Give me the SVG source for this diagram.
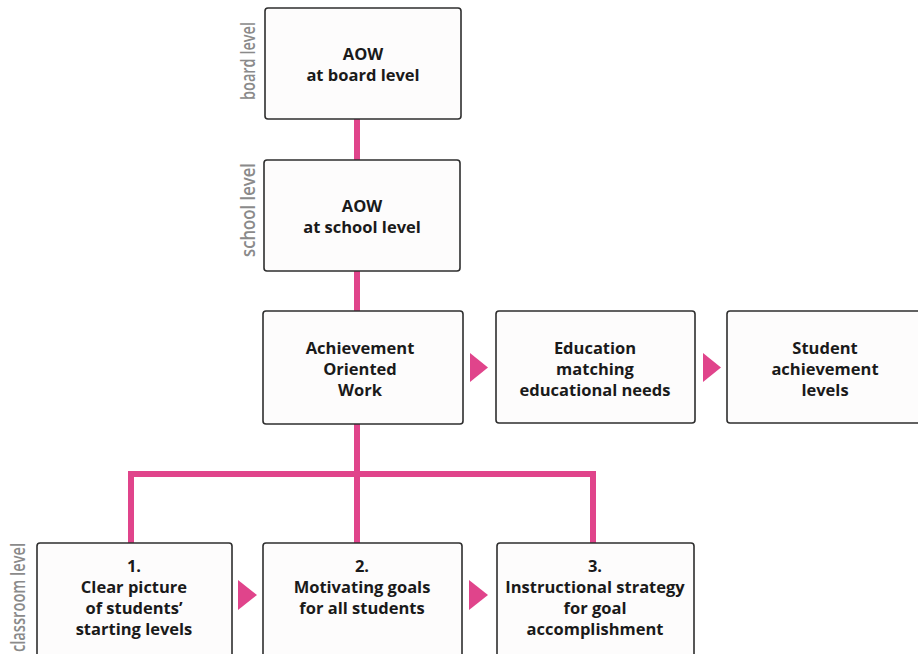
<svg xmlns="http://www.w3.org/2000/svg" width="918" height="654" viewBox="0 0 918 654">
<style>
.box{fill:#fdfcfc;stroke:#2e2e2e;stroke-width:1.6}
.t{font-family:"Open Sans","Liberation Sans",sans-serif;font-weight:bold;font-size:16.5px;fill:#1a1a1a;text-anchor:middle}
.side{font-family:"Open Sans","Liberation Sans",sans-serif;font-size:19px;font-weight:600;fill:#8a8a8a}
.ln{stroke:#e0448b;stroke-width:6;fill:none}
.arr{fill:#e0448b}
</style>
<rect width="918" height="654" fill="#ffffff"/>
<g id="connectors">
<line class="ln" x1="357" y1="119" x2="357" y2="160"/>
<line class="ln" x1="357" y1="271" x2="357" y2="311"/>
<line class="ln" x1="357" y1="424" x2="357" y2="543"/>
<polyline class="ln" points="131,543 131,474 593,474 593,543"/>
<polygon class="arr" points="470,353 488,367.5 470,382"/>
<polygon class="arr" points="703,353 721,367.5 703,382"/>
<polygon class="arr" points="238,580 257,595 238,610"/>
<polygon class="arr" points="469,580 488,595 469,610"/>
</g>
<g id="labels">
<text class="side" transform="translate(255,61) rotate(-90)" text-anchor="middle" textLength="78" lengthAdjust="spacingAndGlyphs">board level</text>
<text class="side" transform="translate(255,210) rotate(-90)" text-anchor="middle" textLength="94" lengthAdjust="spacingAndGlyphs">school level</text>
<text class="side" transform="translate(25,652) rotate(-90)" textLength="109" lengthAdjust="spacingAndGlyphs">classroom level</text>
</g>
<g id="board">
<rect class="box" x="265" y="8" width="196" height="111" rx="3"/>
<text class="t" x="363" y="60">AOW</text>
<text class="t" x="363" y="81">at board level</text>
</g>
<g id="school">
<rect class="box" x="264" y="160" width="196" height="111" rx="3"/>
<text class="t" x="362" y="212">AOW</text>
<text class="t" x="362" y="233">at school level</text>
</g>
<g id="aow">
<rect class="box" x="263" y="311" width="200" height="113" rx="3"/>
<text class="t" x="360" y="354">Achievement</text>
<text class="t" x="360" y="375">Oriented</text>
<text class="t" x="360" y="396">Work</text>
</g>
<g id="education">
<rect class="box" x="496" y="311" width="199" height="112" rx="3"/>
<text class="t" x="595" y="354">Education</text>
<text class="t" x="595" y="375">matching</text>
<text class="t" x="595" y="396">educational needs</text>
</g>
<g id="student">
<rect class="box" x="727" y="311" width="196" height="112" rx="3"/>
<text class="t" x="825" y="354">Student</text>
<text class="t" x="825" y="375">achievement</text>
<text class="t" x="825" y="396">levels</text>
</g>
<g id="step1">
<rect class="box" x="37" y="543" width="195" height="120" rx="3"/>
<text class="t" x="134" y="572">1.</text>
<text class="t" x="134" y="593">Clear picture</text>
<text class="t" x="134" y="614">of students’</text>
<text class="t" x="134" y="635">starting levels</text>
</g>
<g id="step2">
<rect class="box" x="263" y="543" width="199" height="120" rx="3"/>
<text class="t" x="362" y="572">2.</text>
<text class="t" x="362" y="593">Motivating goals</text>
<text class="t" x="362" y="614">for all students</text>
</g>
<g id="step3">
<rect class="box" x="497" y="543" width="197" height="120" rx="3"/>
<text class="t" x="595" y="572">3.</text>
<text class="t" x="595" y="593">Instructional strategy</text>
<text class="t" x="595" y="614">for goal</text>
<text class="t" x="595" y="635">accomplishment</text>
</g>
</svg>
